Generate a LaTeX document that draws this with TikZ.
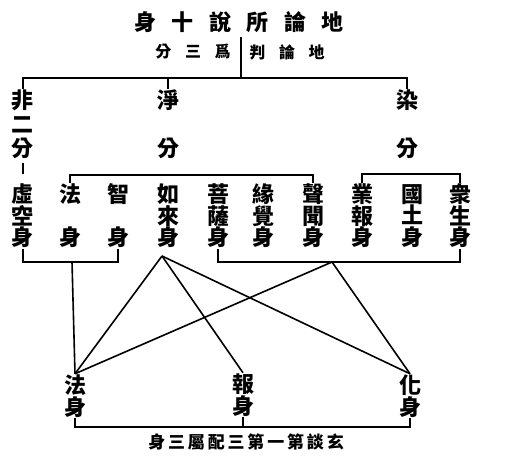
\documentclass[tikz,border=0pt]{standalone}
\usepackage{fontspec}
\newfontfamily\cjk{Noto Sans CJK TC}
\usetikzlibrary{positioning}
\newcommand{\zgap}{\hspace{0.7em}}
\tikzset{
    zi/.style={font=\cjk\bfseries\fontsize{22}{21.5}\selectfont, align=center, inner sep=0pt},
    ziwide/.style={font=\cjk\bfseries\fontsize{22}{24}\selectfont, align=center, inner sep=0pt},
    zilow/.style={font=\cjk\bfseries\fontsize{22}{22}\selectfont, align=center, inner sep=0pt},
    sub/.style={font=\cjk\bfseries\fontsize{16}{16}\selectfont, inner sep=0pt},
    note/.style={font=\cjk\bfseries\fontsize{17}{17}\selectfont, inner sep=0pt}
}

\begin{document}
\begin{tikzpicture}[x=1pt, y=-1pt, line width=1.6pt]
        \useasboundingbox (0,0) rectangle (510,472);

        % heading
        \node[zi] (title) at (239,22) {身\zgap 十\zgap 說\zgap 所\zgap 論\zgap 地};
        \node[sub] (subl) at (193,52) {分\hspace{0.85em}三\hspace{0.85em}爲};
        \node[sub] (subr) at (287,52) {判\hspace{0.85em}論\hspace{0.85em}地};
        \coordinate (bar) at (241,37);
        \coordinate (top) at (241,78);
        \draw (bar) -- (top);

        % first split
        \node[ziwide] (fei) at (23,124) {非\\二\\分};
        \node[ziwide] (jing) at (168,124) {淨\\\phantom{分}\\分};
        \node[ziwide] (ran) at (407,124) {染\\\phantom{分}\\分};
        \draw (fei.north) |- (top) -| (ran.north);
        \draw (top) -| (jing.north);

        % ten bodies
        \node[zi] (xu) at (23,216) {虛\\空\\身};
        \node[zi] (fa) at (70,216) {法\\\phantom{身}\\身};
        \node[zi] (zhi) at (118,216) {智\\\phantom{身}\\身};
        \node[zi] (ru) at (168,216) {如\\來\\身};
        \node[zi] (pu) at (218,216) {菩\\薩\\身};
        \node[zi] (yuan) at (263,216) {緣\\覺\\身};
        \node[zi] (sheng) at (313,216) {聲\\聞\\身};
        \node[zi] (ye) at (362,216) {業\\報\\身};
        \node[zi] (guo) at (412,216) {國\\土\\身};
        \node[zi] (zhong) at (460,216) {衆\\生\\身};

        \draw[shorten <=4pt, shorten >=9pt] (fei.south) -- (xu.north);
        \coordinate (mt) at (190,175);
        \coordinate (rt) at (410,174);
        \draw (fa.north) |- (mt) -| (sheng.north);
        \draw (ye.north) |- (rt) -| (zhong.north);

        \coordinate (lb) at (72,262);
        \coordinate (rb) at (332,262);
        \coordinate (rs) at (162,256);
        \draw (xu.south) |- (lb) -| (zhi.south);
        \draw (pu.south) |- (rb) -| (zhong.south);

        % three bodies
        \node[zilow] (dfa) at (75,396) {法\\身};
        \node[zilow] (bao) at (243,395) {報\\身};
        \node[zilow] (hua) at (410,396) {化\\身};

        \draw (lb) -- (dfa.north);
        \draw (rs) -- (dfa.north);
        \draw (rs) -- (bao.north);
        \draw (rs) -- (hua.north);
        \draw (rb) -- (dfa.north);
        \draw (rb) -- (hua.north);

        \coordinate (bb) at (243,427);
        \draw (dfa.south) |- (bb) -| (hua.south);
        \draw (bb) -- (bao.south);
        \node[note] (cap) at (246,442) {身\,三\,屬\,配\,三\,第\,一\,第\,談\,玄};
    \end{tikzpicture}
\end{document}
